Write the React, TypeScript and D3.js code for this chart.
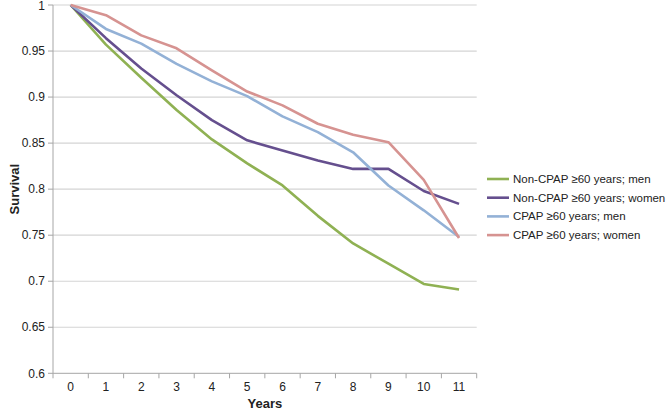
import React from "react";
import * as d3 from "d3";

const years = ["0", "1", "2", "3", "4", "5", "6", "7", "8", "9", "10", "11"];
const yTicks = [0.6, 0.65, 0.7, 0.75, 0.8, 0.85, 0.9, 0.95, 1];
const seriesNames = [
  "Non-CPAP \u226560 years; men",
  "Non-CPAP \u226560 years; women",
  "CPAP \u226560 years; men",
  "CPAP \u226560 years; women",
];
const nonCpapMen = [1, 0.957, 0.921, 0.886, 0.854, 0.828, 0.804, 0.771, 0.741, 0.719, 0.697, 0.691];
const nonCpapWomen = [1, 0.964, 0.931, 0.902, 0.875, 0.853, 0.842, 0.831, 0.822, 0.822, 0.798, 0.784];
const cpapMen = [1, 0.974, 0.958, 0.936, 0.917, 0.901, 0.879, 0.862, 0.84, 0.804, 0.777, 0.748];
const cpapWomen = [1, 0.989, 0.967, 0.953, 0.929, 0.906, 0.891, 0.871, 0.859, 0.851, 0.81, 0.747];
const colors = ["#8FB153", "#654F8E", "#93B1D6", "#D69391"];

export default function App() {
  const W = 668, H = 411;
  const left = 53, right = 476.7, top = 5, bottom = 373.3;
  const x = d3.scaleBand<string>().domain(years).range([left, right]);
  const y = d3.scaleLinear().domain([0.6, 1]).range([bottom, top]);
  const data = [nonCpapMen, nonCpapWomen, cpapMen, cpapWomen];
  const line = d3
    .line<number>()
    .x((_, i) => (x(years[i]) as number) + x.bandwidth() / 2)
    .y((d) => y(d));
  const font = "Liberation Sans, Arial, sans-serif";
  const boundaries = d3.range(years.length + 1).map((i) => left + i * x.step());
  return (
    <svg width={W} height={H} style={{ position: "absolute", left: 0, top: 0, background: "#fff" }} fontFamily={font}>
      {yTicks.map((t) => (
        <g key={t}>
          {t > 0.6 && <line x1={left} x2={right} y1={y(t)} y2={y(t)} stroke="#D4D4D4" strokeWidth={1.2} />}
          <line x1={left - 5} x2={left} y1={y(t)} y2={y(t)} stroke="#A6A6A6" />
          <text x={left - 8} y={Math.max(y(t), 6)} dy="0.35em" textAnchor="end" fontSize={12} fill="#222">
            {String(t)}
          </text>
        </g>
      ))}
      <line x1={left} x2={left} y1={top} y2={bottom} stroke="#A6A6A6" />
      <line x1={left} x2={right} y1={bottom} y2={bottom} stroke="#A6A6A6" />
      {boundaries.map((b, i) => (
        <line key={i} x1={b} x2={b} y1={bottom} y2={bottom + 5} stroke="#A6A6A6" />
      ))}
      {years.map((yr) => (
        <text key={yr} x={(x(yr) as number) + x.bandwidth() / 2} y={bottom + 18} textAnchor="middle" fontSize={12} fill="#222">
          {yr}
        </text>
      ))}
      <text x={(left + right) / 2} y={bottom + 30} dy="0.35em" textAnchor="middle" fontSize={13} fontWeight="bold" fill="#222">
        Years
      </text>
      <text transform={`translate(14,${(top + bottom) / 2}) rotate(-90)`} textAnchor="middle" dy="0.35em" fontSize={13} fontWeight="bold" fill="#222">
        Survival
      </text>
      {data.map((d, i) => (
        <path key={i} d={line(d) || ""} fill="none" stroke={colors[i]} strokeWidth={2.6} strokeLinejoin="round" />
      ))}
      {seriesNames.map((n, i) => (
        <g key={n} transform={`translate(487,${179 + i * 18.7})`}>
          <line x1={0} x2={22} y1={0} y2={0} stroke={colors[i]} strokeWidth={2.6} />
          <text x={26} y={0} dy="0.35em" fontSize={11.5} fill="#222">
            {n}
          </text>
        </g>
      ))}
    </svg>
  );
}
